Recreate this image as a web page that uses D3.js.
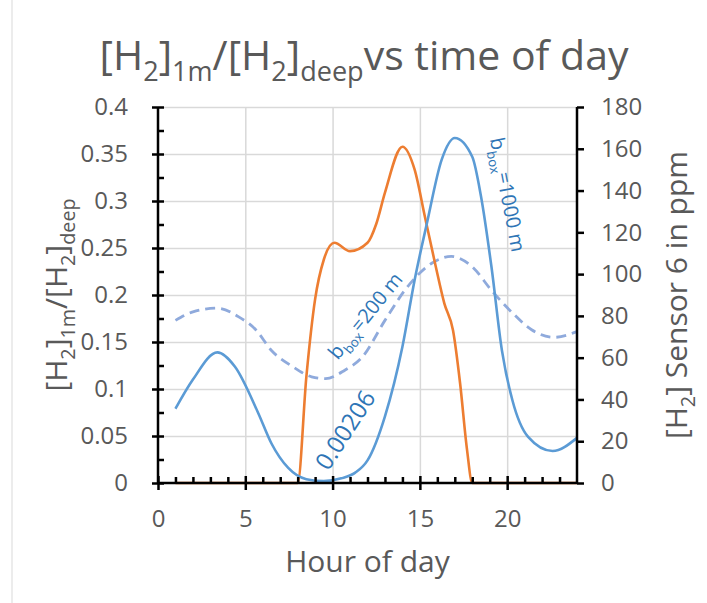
<!DOCTYPE html>
<html>
<head>
<meta charset="utf-8">
<script src="https://cdn.jsdelivr.net/npm/d3@7"></script>
<style>
  body { margin: 0; background: #fff; }
  text { font-family: 'Open Sans', sans-serif; fill: #595959; }
</style>
</head>
<body>
<svg width="707" height="603"></svg>
<script>
// series
const solidHours = [1, 2, 3.4, 4.4, 5.75, 6.5, 7.46, 8.5, 9.5, 10.5, 11.3, 12, 13, 14, 14.7, 15.4, 16.25, 17, 18, 18.5, 19.1, 19.7, 20.3, 21.2, 22.6, 24];
const solidRatio = [0.079, 0.11, 0.139, 0.124, 0.074, 0.042, 0.016, 0.004, 0.002, 0.005, 0.011, 0.024, 0.071, 0.145, 0.216, 0.276, 0.344, 0.367, 0.347, 0.305, 0.23, 0.141, 0.088, 0.049, 0.034, 0.048];

const dashHours = [1, 2, 3.4, 4.6, 5.6, 6.5, 7.7, 8.8, 9.6, 10.7, 11.7, 13, 14.3, 15.7, 16.8, 18, 19.1, 20.3, 21.4, 22.7, 24];
const dashRatio = [0.173, 0.182, 0.186, 0.177, 0.163, 0.141, 0.124, 0.113, 0.111, 0.12, 0.134, 0.173, 0.209, 0.234, 0.241, 0.23, 0.205, 0.181, 0.163, 0.155, 0.161];

const sensorHours = [1, 8, 8.5, 9, 9.5, 10.1, 11, 12, 12.5, 13, 14, 14.7, 15.3, 15.9, 16.4, 16.9, 17.3, 17.7, 18, 24];
const sensorPpm = [0, 0, 51, 88, 107, 115, 111, 115, 124, 139, 161, 150, 127, 104, 86, 73, 48, 16, 0, 0];

const xTicks = [0, 5, 10, 15, 20];
const leftTicks = [0, 0.05, 0.1, 0.15, 0.2, 0.25, 0.3, 0.35, 0.4];
const rightTicks = [0, 20, 40, 60, 80, 100, 120, 140, 160, 180];

const svg = d3.select('svg');
const width = +svg.attr('width');
const height = +svg.attr('height');

const margin = { top: 107, right: 130, bottom: 120, left: 158 };
const innerWidth = width - margin.left - margin.right;
const innerHeight = height - margin.top - margin.bottom;

svg.append('rect').attr('width', width).attr('height', height).attr('fill', '#fff');
svg.append('line')
    .attr('x1', 12).attr('x2', 12).attr('y1', 0).attr('y2', height)
    .attr('stroke', '#d9d9d9').attr('stroke-width', 1);

const xScale = d3.scaleLinear().domain([0, 24]).range([0, innerWidth]);
const yLeft = d3.scaleLinear().domain([0, 0.4]).range([innerHeight, 0]);
const yRight = d3.scaleLinear().domain([0, 180]).range([innerHeight, 0]);

const g = svg.append('g')
    .attr('transform', `translate(${margin.left}, ${margin.top})`);

// axis with only tick lines (grid + minor ticks)
const bare = (s, color) => {
    s.select('.domain').remove();
    s.selectAll('text').remove();
    s.selectAll('line').attr('stroke', color).attr('stroke-width', color === '#000' ? 2.5 : 1.5);
};

// gridlines
g.append('g').call(d3.axisLeft(yLeft).tickValues(leftTicks.slice(1)).tickSize(-innerWidth))
    .call(bare, '#d9d9d9');
g.append('g').attr('transform', `translate(0, ${innerHeight})`)
    .call(d3.axisBottom(xScale).tickValues(xTicks.slice(1)).tickSize(-innerHeight))
    .call(bare, '#d9d9d9');

// series
const lineOf = (xs, ys, yScale) => d3.line()
    .x((d, i) => xScale(xs[i]))
    .y(d => yScale(d))
    .curve(d3.curveMonotoneX)(ys);

g.append('path').attr('d', lineOf(dashHours, dashRatio, yLeft))
    .attr('fill', 'none').attr('stroke', '#8faadc').attr('stroke-width', 2.8)
    .attr('stroke-dasharray', '10,6');
g.append('path').attr('d', lineOf(sensorHours, sensorPpm, yRight))
    .attr('fill', 'none').attr('stroke', '#ed7d31').attr('stroke-width', 2.6);
g.append('path').attr('d', lineOf(solidHours, solidRatio, yLeft))
    .attr('fill', 'none').attr('stroke', '#5b9bd5').attr('stroke-width', 2.6);

// axes
const styleAxis = s => {
    s.select('.domain').attr('stroke', '#000').attr('stroke-width', 2.5);
    s.selectAll('.tick line').attr('stroke', '#000').attr('stroke-width', 2.5);
    s.selectAll('.tick text').style('font-size', '24px').style('fill', '#595959');
};

const leftAxisG = g.append('g')
    .call(d3.axisLeft(yLeft).tickValues(leftTicks).tickSize(6).tickPadding(24)
        .tickFormat(d => d3.format('')(+d.toFixed(2))))
    .call(styleAxis);
leftAxisG.select('.domain').attr('d', `M0,${innerHeight}V0`);
leftAxisG.selectAll('.tick line').attr('x1', 6);

g.append('g')
    .call(d3.axisLeft(yLeft).tickValues(leftTicks.slice(1).map(d => d - 0.025)).tickSize(-6))
    .call(bare, '#000');

const xAxisG = g.append('g').attr('transform', `translate(0, ${innerHeight})`)
    .call(d3.axisBottom(xScale).tickValues(xTicks).tickSize(7).tickPadding(20))
    .call(styleAxis);
xAxisG.select('.domain').attr('d', `M0,0H${innerWidth}`);
xAxisG.selectAll('.tick line').attr('y1', -7);

g.append('g').attr('transform', `translate(0, ${innerHeight})`)
    .call(d3.axisBottom(xScale).tickValues(d3.range(1, 24).filter(d => d % 5 !== 0)).tickSize(-6))
    .call(bare, '#000');

const rightAxisG = g.append('g').attr('transform', `translate(${innerWidth}, 0)`)
    .call(d3.axisRight(yRight).tickValues(rightTicks).tickSize(7).tickPadding(17))
    .call(styleAxis);
rightAxisG.select('.domain').attr('d', `M0,${innerHeight}V0`);

// text with subscripts
const richText = (sel, parts, size) => {
    let shifted = false;
    parts.forEach(p => {
        const t = sel.append('tspan').text(p[0]);
        if (p[1] && !shifted) { t.attr('dy', size * 0.28).style('font-size', (size * 0.66) + 'px'); shifted = true; }
        else if (p[1]) { t.style('font-size', (size * 0.66) + 'px'); }
        else if (shifted) { t.attr('dy', -size * 0.28); shifted = false; }
    });
};

const title = svg.append('text').attr('x', 364).attr('y', 70)
    .attr('text-anchor', 'middle').style('font-size', '41px');
richText(title, [['[H'], ['2', 1], [']'], ['1m', 1], ['/[H'], ['2', 1], [']'], ['deep', 1], ['vs time of day']], 41);

const leftLabel = svg.append('text')
    .attr('transform', `translate(67, ${margin.top + innerHeight / 2}) rotate(-90)`)
    .attr('text-anchor', 'middle').style('font-size', '30px');
richText(leftLabel, [['[H'], ['2', 1], [']'], ['1m', 1], ['/[H'], ['2', 1], [']'], ['deep', 1]], 30);

const rightLabel = svg.append('text')
    .attr('transform', `translate(687, ${margin.top + innerHeight / 2}) rotate(-90)`)
    .attr('text-anchor', 'middle').style('font-size', '30px');
richText(rightLabel, [['[H'], ['2', 1], ['] Sensor 6 in ppm']], 30);

svg.append('text').attr('x', margin.left + innerWidth / 2).attr('y', 572)
    .attr('text-anchor', 'middle').style('font-size', '30px').text('Hour of day');

// annotations
const note = (h, v, angle, parts, size) => {
    const t = g.append('text')
        .attr('transform', `translate(${xScale(h)}, ${yLeft(v)}) rotate(${angle})`)
        .style('font-size', size + 'px').style('fill', '#2e75b6');
    richText(t, parts, size);
};
note(19.0, 0.366, 79, [['b'], ['box', 1], ['=1000 m']], 20);
note(10.3, 0.13, -51, [['b'], ['box', 1], ['=200 m']], 20);
note(9.75, 0.012, -57, [['0.00206']], 24);
</script>
</body>
</html>
